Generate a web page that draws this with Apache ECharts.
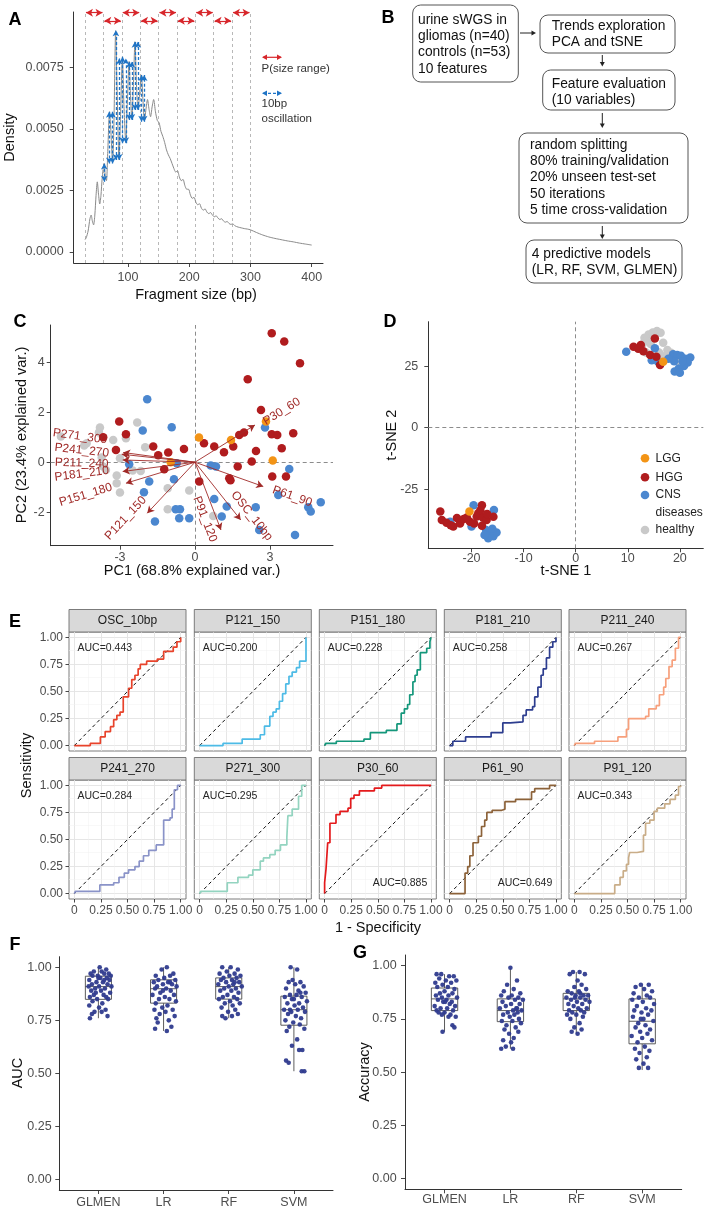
<!DOCTYPE html>
<html><head><meta charset="utf-8">
<script src="https://cdn.jsdelivr.net/npm/echarts@6/dist/echarts.min.js"></script>
<style>html,body{margin:0;padding:0;background:#fff}#c{width:709px;height:1209px}</style>
</head><body><div id="c"></div>
<script>
// ================= DATA =================
// Panel A: fragment size density
const densityCurve = [[30,0.00050],[32,0.00058],[35,0.00085],[38,0.00135],[40,0.00150],[42,0.00125],[44,0.00110],[46,0.00150],[48,0.00230],[50,0.00285],[52,0.00235],[54,0.00195],[56,0.00230],[58,0.00300],[61,0.00360],[63,0.00310],[65,0.00290],[67,0.00400],[70,0.00570],[72,0.00500],[75,0.00365],[77,0.00500],[80,0.00900],[82,0.00700],[85.5,0.00375],[88,0.00560],[91,0.00790],[93.5,0.00600],[96.5,0.00445],[99,0.00600],[102,0.00775],[104,0.00650],[106.5,0.00540],[109,0.00680],[111.5,0.00855],[114,0.00680],[116.5,0.00580],[119,0.00640],[122,0.00720],[124.5,0.00620],[127,0.00535],[129.5,0.00580],[132,0.00620],[134.5,0.00580],[137,0.00550],[139.5,0.00590],[142,0.00620],[145,0.00570],[148,0.00535],[151,0.00525],[154,0.00490],[157,0.00470],[160,0.00445],[163,0.00415],[166,0.00395],[169,0.00380],[172,0.00360],[175,0.00340],[178,0.00325],[181,0.00330],[184,0.00305],[187,0.00290],[190,0.00295],[193,0.00270],[196,0.00255],[199,0.00255],[202,0.00232],[205,0.00218],[208,0.00222],[211,0.00202],[214,0.00192],[217,0.00196],[220,0.00178],[223,0.00170],[226,0.00175],[229,0.00162],[232,0.00156],[235,0.00160],[238,0.00150],[241,0.00143],[244,0.00147],[247,0.00138],[250,0.00132],[253,0.00135],[256,0.00126],[259,0.00121],[262,0.00124],[265,0.00116],[268,0.00112],[271,0.00114],[275,0.00106],[280,0.00101],[285,0.00098],[290,0.00095],[295,0.00093],[300,0.00090],[310,0.00079],[320,0.00069],[330,0.00061],[340,0.00055],[350,0.00050],[360,0.00045],[370,0.00041],[380,0.00036],[390,0.00032],[400,0.00028]];
const sizeBreaks = [30,60,90,120,150,180,210,240,270,300];
const sizeRanges = [[30,60],[60,90],[90,120],[120,150],[150,180],[180,210],[210,240],[240,270],[270,300]];
const sizeRangeLevel = [0.00973,0.00940];
const oscArrows = [[61.4,0.00286,0.00360],[69.5,0.00360,0.00570],[75.0,0.00360,0.00570],[80.4,0.00374,0.00902],[85.8,0.00374,0.00787],[91.3,0.00442,0.00794],[96.7,0.00442,0.00787],[102.2,0.00537,0.00774],[106.5,0.00537,0.00774],[111.4,0.00577,0.00855],[116.3,0.00577,0.00855],[122.3,0.00530,0.00720],[126.6,0.00530,0.00720]];
const aTicksX = [100,200,300,400];
const aTicksY = [0,0.0025,0.005,0.0075];

// Panel B: flowchart text
const flowTexts = [
  ['urine sWGS in','gliomas (n=40)','controls (n=53)','10 features'],
  ['Trends exploration','PCA and tSNE'],
  ['Feature evaluation','(10 variables)'],
  ['random splitting','80% training/validation','20% unseen test-set','50 iterations','5 time cross-validation'],
  ['4 predictive models','(LR, RF, SVM, GLMEN)']
];

// Panel C: PCA biplot
const pcaHealthy = [[-3.8,1.39],[-3.84,1.19],[-5.36,1.03],[-4.43,0.67],[-4.33,0.76],[-3.27,0.89],[-2.76,0.96],[-2.31,1.59],[-1.99,0.6],[-3.73,0.19],[-3.67,-0.17],[-3.56,-0.31],[-3.0,0.16],[-2.49,-0.33],[-2.17,-0.35],[-3.13,-0.53],[-3.13,-0.84],[-3.0,-1.21],[-1.09,-1.04],[-1.09,-1.88],[-0.23,-1.13],[0.73,-2.15]];
const pcaCNS = [[-1.91,2.52],[-2.09,1.27],[-0.93,1.4],[-2.63,-0.08],[-1.83,-0.77],[-2.04,-1.2],[-1.6,-2.37],[-0.84,-0.68],[-0.73,-0.04],[-0.77,-1.88],[-0.6,-1.88],[-0.63,-2.24],[-0.23,-2.24],[0.63,-0.13],[0.84,-0.17],[0.77,-1.47],[1.27,-1.77],[1.07,-2.17],[2.43,-1.8],[2.57,-2.71],[2.8,1.39],[3.77,-0.27],[3.33,-1.31],[4.53,-1.8],[4.63,-1.97],[5.03,-1.6],[4.0,-2.91]];
const pcaHGG = [[3.07,5.16],[3.57,4.83],[4.2,3.96],[2.11,3.32],[2.64,2.09],[-3.03,1.63],[-3.67,1.0],[-2.76,1.12],[-3.16,0.49],[-1.67,0.63],[-1.47,0.28],[-1.07,0.39],[-0.44,0.53],[-1.23,-0.28],[0.17,-0.77],[0.36,0.76],[0.77,0.63],[1.16,0.4],[1.53,0.63],[1.77,1.09],[1.96,1.19],[2.44,0.45],[2.27,0.03],[1.71,-0.17],[1.37,-0.64],[3.07,1.12],[3.29,1.09],[3.93,1.16],[3.47,0.56],[3.09,-0.57],[3.64,-0.57],[1.42,-0.72]];
const pcaLGG = [[0.16,0.99],[1.44,0.89],[2.84,1.63],[3.11,0.07],[-0.97,0.0]];
const loadingNames = ['P30_60','P61_90','OSC_10bp','P91_120','P121_150','P151_180','P181_210','P211_240','P241_270','P271_300'];
const loadingEnds = [[2.4,1.49],[2.73,-0.97],[1.83,-2.31],[1.04,-2.71],[-1.91,-2.04],[-2.76,-0.84],[-2.89,-0.37],[-2.89,0.09],[-2.93,0.32],[-2.87,0.39]];
const loadingLabelAt = [[3.47,2.03],[3.89,-1.37],[2.27,-2.15],[0.4,-2.28],[-2.77,-2.24],[-4.37,-1.31],[-4.53,-0.47],[-4.53,-0.04],[-4.53,0.47],[-4.6,1.03]];
const cTicksX = [-3,0,3];
const cTicksY = [-2,0,2,4];

// Panel D: t-SNE
const tsneHealthy = [[13.2,36.5],[14.0,37.8],[14.8,38.6],[15.6,39.2],[16.3,38.5],[15.0,36.8],[13.6,35.2],[14.4,34.0],[16.8,34.5],[12.8,33.8],[17.6,31.5],[18.3,30.4],[17.0,29.0],[19.5,27.0],[20.5,25.4],[16.0,30.5],[13.5,30.5]];
const tsneCNS = [[9.7,30.8],[15.2,32.2],[14.6,27.4],[15.8,26.8],[18.7,29.8],[19.5,29.5],[20.2,29.2],[21.0,28.0],[22.0,28.5],[21.5,26.5],[20.8,25.0],[19.8,24.0],[19.0,22.8],[20.0,22.3],[18.9,27.0],[17.8,28.0],[20.5,27.0],[-24.1,-38.1],[-19.6,-31.4],[-20.0,-40.1],[-15.7,-33.4],[-17.2,-41.5],[-16.5,-42.8],[-15.8,-44.0],[-16.8,-44.8],[-17.5,-43.5],[-15.2,-42.5],[-16.0,-41.0]];
const tsneHGG = [[11.1,32.8],[12.5,33.5],[12.0,32.0],[15.2,36.2],[14.3,29.5],[15.5,28.8],[16.2,25.4],[13.0,31.0],[-26.0,-34.0],[-25.7,-37.4],[-24.8,-38.5],[-23.5,-40.1],[-22.2,-38.8],[-21.5,-37.0],[-20.3,-38.1],[-19.0,-36.0],[-18.7,-34.7],[-18.0,-31.4],[-18.3,-33.5],[-17.8,-36.5],[-17.1,-37.4],[-15.8,-36.1],[-19.5,-38.8],[-18.0,-39.8],[-22.8,-36.6],[-24.0,-39.6],[-20.9,-36.4],[-17.0,-35.0]];
const tsneLGG = [[16.8,26.8],[-20.4,-34.0]];
const dTicksX = [-20,-10,0,10,20];
const dTicksY = [-25,0,25];
const groupNames = ['LGG','HGG','CNS\ndiseases','healthy'];

// Panel E: ROC curves
const rocNames = ['OSC_10bp','P121_150','P151_180','P181_210','P211_240','P241_270','P271_300','P30_60','P61_90','P91_120'];
const rocAUC = ['0.443','0.200','0.228','0.258','0.267','0.284','0.295','0.885','0.649','0.343'];
const roc_OSC_10bp = [[0,0],[0.15,0.02],[0.245,0.08],[0.29,0.13],[0.34,0.175],[0.37,0.24],[0.40,0.28],[0.43,0.31],[0.46,0.45],[0.51,0.53],[0.54,0.61],[0.57,0.65],[0.60,0.71],[0.62,0.75],[0.68,0.78],[0.78,0.80],[0.84,0.87],[0.93,0.91],[0.965,0.96],[1,1]];
const roc_P121_150 = [[0,0],[0.22,0.02],[0.40,0.06],[0.57,0.10],[0.61,0.18],[0.66,0.27],[0.69,0.31],[0.72,0.34],[0.75,0.41],[0.78,0.48],[0.81,0.57],[0.84,0.64],[0.87,0.68],[0.91,0.72],[0.94,0.78],[1,1]];
const roc_P151_180 = [[0,0],[0.01,0.02],[0.11,0.04],[0.37,0.06],[0.43,0.12],[0.58,0.14],[0.68,0.20],[0.72,0.30],[0.75,0.34],[0.78,0.38],[0.80,0.47],[0.83,0.59],[0.85,0.65],[0.87,0.70],[0.90,0.86],[0.96,0.90],[0.99,0.96],[1,1]];
const roc_P181_210 = [[0,0],[0.03,0.04],[0.15,0.08],[0.39,0.12],[0.50,0.21],[0.57,0.22],[0.69,0.28],[0.72,0.33],[0.78,0.36],[0.80,0.45],[0.83,0.54],[0.86,0.65],[0.88,0.71],[0.91,0.81],[0.94,0.91],[0.97,0.96],[1,1]];
const roc_P211_240 = [[0,0],[0.01,0.02],[0.19,0.04],[0.41,0.08],[0.49,0.15],[0.51,0.25],[0.67,0.27],[0.70,0.34],[0.77,0.37],[0.80,0.47],[0.84,0.54],[0.86,0.62],[0.89,0.73],[0.92,0.79],[0.95,0.90],[0.98,1.0],[1,1]];
const roc_P241_270 = [[0,0],[0.01,0.02],[0.24,0.08],[0.37,0.10],[0.42,0.15],[0.47,0.19],[0.51,0.22],[0.57,0.25],[0.61,0.30],[0.65,0.35],[0.70,0.40],[0.77,0.45],[0.84,0.68],[0.90,0.70],[0.92,0.78],[0.94,0.96],[0.97,1.0],[1,1]];
const roc_P271_300 = [[0,0],[0.01,0.02],[0.26,0.10],[0.36,0.15],[0.46,0.17],[0.50,0.22],[0.57,0.30],[0.60,0.33],[0.66,0.36],[0.71,0.40],[0.76,0.45],[0.82,0.52],[0.83,0.72],[0.87,0.78],[0.93,0.90],[0.96,1.0],[1,1]];
const roc_P30_60 = [[0,0],[0,0.10],[0.013,0.225],[0.029,0.47],[0.05,0.65],[0.107,0.73],[0.145,0.76],[0.22,0.79],[0.245,0.88],[0.276,0.91],[0.327,0.95],[0.468,0.975],[0.537,1.0],[1,1]];
const roc_P61_90 = [[0,0],[0.145,0.19],[0.17,0.25],[0.19,0.35],[0.22,0.47],[0.27,0.53],[0.30,0.62],[0.33,0.68],[0.35,0.75],[0.40,0.77],[0.49,0.78],[0.52,0.85],[0.62,0.87],[0.77,0.94],[0.80,0.97],[0.94,1.0],[1,1]];
const roc_P91_120 = [[0,0],[0.38,0.08],[0.43,0.15],[0.46,0.21],[0.49,0.27],[0.51,0.33],[0.52,0.38],[0.59,0.39],[0.65,0.54],[0.67,0.65],[0.71,0.68],[0.75,0.76],[0.78,0.79],[0.85,0.83],[0.90,0.87],[0.95,0.91],[0.98,0.99],[1,1]];
const eTicks = [0,0.25,0.5,0.75,1];

// Panels F & G: model performance
const models = ['GLMEN','LR','RF','SVM'];
const aucBox = [[0.76,0.849,0.909,0.958,1.0],[0.70,0.831,0.899,0.941,1.0],[0.76,0.85,0.909,0.95,1.0],[0.51,0.727,0.80,0.864,1.0]];
const accBox = [[0.69,0.789,0.844,0.895,0.96],[0.61,0.737,0.789,0.844,0.99],[0.68,0.789,0.844,0.870,0.97],[0.51,0.633,0.739,0.844,0.91]];
const aucGLMEN = [[1.02,1.00],[1.12,0.99],[0.93,0.98],[1.05,0.98],[1.16,0.97],[0.88,0.97],[1.09,0.97],[0.99,0.96],[1.19,0.96],[0.91,0.96],[1.13,0.95],[1.03,0.95],[0.86,0.94],[1.17,0.94],[0.97,0.93],[1.07,0.93],[0.90,0.92],[1.14,0.92],[1.01,0.91],[0.85,0.91],[1.20,0.91],[0.95,0.90],[1.10,0.90],[0.89,0.89],[1.04,0.89],[1.18,0.88],[0.93,0.87],[1.08,0.87],[0.87,0.86],[1.12,0.86],[0.98,0.85],[1.15,0.85],[0.91,0.84],[1.06,0.83],[0.86,0.82],[1.01,0.81],[1.11,0.80],[0.94,0.79],[1.05,0.79],[0.90,0.78],[1.14,0.77],[0.87,0.76],[1.00,0.95],[1.09,0.94],[0.96,0.88]];
const aucLR = [[2.05,1.00],[1.97,0.99],[2.15,0.97],[1.88,0.96],[2.10,0.96],[2.01,0.95],[2.18,0.94],[1.92,0.94],[2.07,0.93],[1.85,0.93],[2.13,0.92],[1.99,0.92],[2.20,0.91],[1.90,0.91],[2.04,0.90],[1.87,0.90],[2.11,0.89],[1.95,0.88],[2.16,0.87],[1.83,0.87],[2.02,0.86],[2.09,0.85],[1.93,0.85],[2.19,0.84],[1.88,0.83],[2.06,0.82],[1.98,0.81],[2.14,0.80],[1.86,0.80],[2.03,0.79],[1.94,0.78],[2.17,0.77],[1.89,0.76],[2.08,0.75],[1.91,0.74],[2.12,0.72],[1.87,0.71],[2.05,0.70],[1.99,0.89],[2.10,0.93]];
const aucRF = [[2.90,1.00],[3.03,1.00],[3.14,0.99],[2.97,0.98],[3.09,0.97],[2.86,0.97],[3.18,0.96],[3.01,0.96],[2.92,0.95],[3.12,0.95],[3.05,0.94],[2.88,0.94],[3.16,0.93],[2.96,0.93],[3.07,0.92],[2.84,0.92],[3.20,0.91],[3.00,0.91],[2.93,0.90],[3.11,0.90],[3.04,0.89],[2.87,0.89],[3.15,0.88],[2.98,0.87],[3.08,0.86],[2.91,0.86],[3.13,0.85],[2.85,0.85],[3.02,0.84],[3.17,0.83],[2.94,0.83],[3.06,0.82],[2.89,0.81],[3.10,0.80],[2.99,0.79],[3.14,0.78],[2.90,0.77],[3.05,0.77],[2.95,0.76],[3.09,0.93]];
const aucSVM = [[3.95,1.00],[4.05,0.99],[3.98,0.94],[4.10,0.93],[3.92,0.93],[4.02,0.92],[4.15,0.91],[3.88,0.90],[4.07,0.89],[4.18,0.88],[3.94,0.87],[4.04,0.87],[3.86,0.86],[4.12,0.86],[3.97,0.85],[4.20,0.84],[4.08,0.83],[3.90,0.83],[4.01,0.82],[4.14,0.81],[3.85,0.80],[4.06,0.80],[3.96,0.79],[4.17,0.79],[3.91,0.78],[4.03,0.77],[4.11,0.76],[3.87,0.75],[3.99,0.74],[4.09,0.73],[3.93,0.72],[4.16,0.71],[3.89,0.70],[4.05,0.66],[3.97,0.63],[4.13,0.61],[4.08,0.61],[3.88,0.56],[3.92,0.55],[4.12,0.51],[4.16,0.51],[4.00,0.85],[3.94,0.80],[4.10,0.88]];
const accGLMEN = [[0.88,0.96],[0.95,0.96],[1.07,0.95],[1.14,0.95],[0.92,0.94],[1.02,0.93],[1.18,0.93],[0.86,0.92],[1.10,0.92],[0.97,0.91],[1.05,0.90],[0.89,0.90],[1.15,0.89],[1.00,0.88],[0.93,0.87],[1.12,0.87],[0.87,0.86],[1.06,0.86],[1.19,0.85],[0.96,0.85],[1.03,0.84],[0.90,0.84],[1.11,0.83],[0.98,0.83],[1.08,0.82],[0.85,0.81],[1.16,0.81],[0.94,0.80],[1.04,0.80],[0.88,0.79],[1.13,0.79],[1.00,0.78],[0.91,0.78],[1.09,0.77],[0.96,0.77],[1.17,0.76],[1.06,0.76],[1.12,0.72],[1.15,0.71],[0.97,0.69],[1.01,0.83]];
const accLR = [[2.00,0.99],[2.10,0.93],[1.95,0.91],[2.05,0.89],[1.90,0.88],[2.15,0.87],[2.02,0.86],[1.86,0.86],[2.12,0.85],[1.97,0.85],[2.19,0.84],[2.07,0.84],[1.88,0.83],[2.01,0.82],[2.14,0.82],[1.93,0.81],[2.09,0.80],[1.84,0.80],[2.04,0.79],[2.17,0.79],[1.96,0.78],[2.11,0.78],[1.89,0.77],[2.06,0.77],[1.99,0.76],[2.13,0.75],[1.87,0.74],[2.03,0.74],[2.16,0.73],[1.94,0.72],[2.08,0.71],[1.91,0.70],[2.12,0.69],[1.98,0.68],[2.05,0.66],[1.89,0.65],[2.01,0.64],[1.93,0.62],[2.04,0.61],[1.86,0.61],[2.10,0.80]];
const accRF = [[2.95,0.97],[3.05,0.97],[3.13,0.96],[2.90,0.96],[3.02,0.93],[3.08,0.91],[2.97,0.90],[3.15,0.89],[2.87,0.88],[3.04,0.88],[2.93,0.87],[3.11,0.86],[3.18,0.86],[2.99,0.86],[2.85,0.85],[3.06,0.85],[3.14,0.84],[2.92,0.84],[3.01,0.83],[3.20,0.83],[2.88,0.82],[3.09,0.82],[2.96,0.81],[3.03,0.80],[3.16,0.80],[2.89,0.79],[3.07,0.79],[2.94,0.78],[3.12,0.78],[2.86,0.77],[3.00,0.77],[3.10,0.76],[2.91,0.75],[3.05,0.73],[2.97,0.71],[3.08,0.70],[2.93,0.69],[3.02,0.68],[3.06,0.87],[2.98,0.85]];
const accSVM = [[3.98,0.91],[4.10,0.91],[3.90,0.90],[4.03,0.89],[4.15,0.88],[3.87,0.87],[4.07,0.86],[3.95,0.85],[4.12,0.85],[3.85,0.84],[4.01,0.83],[4.18,0.82],[3.92,0.81],[4.06,0.80],[3.88,0.79],[4.14,0.79],[3.99,0.78],[4.09,0.77],[3.86,0.76],[4.02,0.75],[4.17,0.74],[3.94,0.73],[4.05,0.72],[3.90,0.71],[4.12,0.70],[3.97,0.69],[4.08,0.68],[3.84,0.67],[4.00,0.66],[4.15,0.65],[3.93,0.64],[4.04,0.62],[3.89,0.61],[4.11,0.60],[3.96,0.59],[4.07,0.57],[3.91,0.56],[4.02,0.54],[3.95,0.52],[4.09,0.52],[3.98,0.75]];
const fgTicksY = [0,0.25,0.5,0.75,1];
const fgTicksX = [1,2,3,4];

// ================= STYLE / LAYOUT =================
const FONT = '"Liberation Sans", Arial, Helvetica, sans-serif';
const AXC = '#333333', TLC = '#4d4d4d';
const COL = {LGG:'#f39416', HGG:'#b01c1e', CNS:'#4b87cf', healthy:'#c9c9c9'};
const LOADC = '#a02a28';
const rocColors = ['#e8432b','#4dbbe6','#14977b','#2d3d8f','#f7a07c','#8a93c8','#93d4c0','#e41a1c','#8c6239','#c9ad88'];
const aucPos = ['tl','tl','tl','tl','tl','tl','tl','br','br','tl'];
const facetLeft = [69,194.3,319.3,444.3,569], facetTop = [632,780], facetW = 117, facetH = 119;

function vAxis(gi, min, max, ticks, fmt, o) {
  o = o || {};
  return {
    type:'value', gridIndex:gi, min:min, max:max,
    axisLine:{show:o.line!==false, onZero:false, lineStyle:{color:AXC, width:1}},
    axisTick:{show:o.ticks!==false, length:o.tickLen||4, lineStyle:{color:AXC, width:0.9}, customValues:ticks},
    axisLabel:{show:o.labels!==false, customValues:ticks, formatter:fmt, color:TLC, fontSize:o.fs||12.5, fontFamily:FONT, margin:o.margin||6},
    splitLine:{show:false}
  };
}

const grids = [], xAxes = [], yAxes = [], series = [], graphics = [];

// ---------- Panel A ----------
grids.push({left:73.7, top:12, width:249.3, height:251});
xAxes.push(vAxis(0, 11.5, 418.5, aTicksX, v => String(v), {margin:8}));
yAxes.push(vAxis(0, -0.00045, 0.00976, aTicksY, v => v.toFixed(4), {margin:10}));
series.push({type:'line', xAxisIndex:0, yAxisIndex:0, data:densityCurve, smooth:0.25, showSymbol:false, symbol:'none',
  lineStyle:{color:'#8a8a8a', width:1}, z:2,
  markLine:{silent:true, z:1, symbol:['none','none'], label:{show:false},
    lineStyle:{color:'#a6a6a6', type:[3,3], width:0.8},
    data: sizeBreaks.map(v => ({xAxis:v}))}});
series.push({type:'line', xAxisIndex:0, yAxisIndex:0, data:[], clip:false,
  markLine:{silent:true, z:5, symbol:['arrow','arrow'], symbolSize:[6,7], label:{show:false},
    lineStyle:{color:'#d7262b', type:'solid', width:1.2},
    data: sizeRanges.map((r,i) => [{coord:[r[0]+1.5, sizeRangeLevel[i%2]]},{coord:[r[1]-1.5, sizeRangeLevel[i%2]]}])}});
series.push({type:'line', xAxisIndex:0, yAxisIndex:0, data:[], clip:false,
  markLine:{silent:true, z:5, symbol:['arrow','arrow'], symbolSize:[5,6], label:{show:false},
    lineStyle:{color:'#1f74c6', type:[3,2], width:1.3},
    data: oscArrows.map(a => [{coord:[a[0], a[1]]},{coord:[a[0], a[2]]}])}});

// ---------- Panel C ----------
grids.push({left:50.7, top:325, width:282.3, height:220.7});
xAxes.push(vAxis(1, -5.77, 5.52, cTicksX, v => String(v), {margin:5}));
yAxes.push(vAxis(1, -3.34, 5.49, cTicksY, v => String(v), {margin:6}));
const scatterStyle = (gi, data, col, size) => ({type:'scatter', xAxisIndex:gi, yAxisIndex:gi, data:data, symbolSize:size,
  itemStyle:{color:col, opacity:1}, silent:true, z:3});
series.push({type:'line', xAxisIndex:1, yAxisIndex:1, data:[],
  markLine:{silent:true, z:1, symbol:['none','none'], label:{show:false},
    lineStyle:{color:'#8c8c8c', type:[4,3], width:1}, data:[{xAxis:0},{yAxis:0}]}});
series.push(scatterStyle(1, pcaHealthy, COL.healthy, 8.5));
series.push(scatterStyle(1, pcaCNS, COL.CNS, 8.5));
series.push(scatterStyle(1, pcaHGG, COL.HGG, 8.5));
series.push(scatterStyle(1, pcaLGG, COL.LGG, 8.5));
series.push({type:'scatter', xAxisIndex:1, yAxisIndex:1, symbolSize:0, silent:true, z:6,
  itemStyle:{opacity:1},
  data: loadingLabelAt.map((p,i) => {
    let ang = Math.atan2(loadingEnds[i][1], loadingEnds[i][0]) * 180 / Math.PI;
    if (ang > 90) ang -= 180; if (ang < -90) ang += 180;
    return {value:p, label:{show:true, formatter:loadingNames[i], rotate:ang, position:'inside',
      color:LOADC, fontSize:12, fontFamily:FONT, opacity:1}};
  }),
  markLine:{silent:true, z:5, symbol:['none','arrow'], symbolSize:[6,7], label:{show:false},
    lineStyle:{color:LOADC, type:'solid', width:0.9, opacity:1},
    data: loadingEnds.map(e => [{coord:[0,0]},{coord:e}])}});

// ---------- Panel D ----------
grids.push({left:428.3, top:321.7, width:275, height:226.6});
xAxes.push(vAxis(2, -28.3, 24.5, dTicksX, v => String(v), {margin:4}));
yAxes.push(vAxis(2, -48.9, 43.0, dTicksY, v => String(v), {margin:10}));
series.push({type:'line', xAxisIndex:2, yAxisIndex:2, data:[],
  markLine:{silent:true, z:1, symbol:['none','none'], label:{show:false},
    lineStyle:{color:'#8c8c8c', type:[4,3], width:1}, data:[{xAxis:0},{yAxis:0}]}});
series.push(scatterStyle(2, tsneHealthy, COL.healthy, 8.5));
series.push(scatterStyle(2, tsneCNS, COL.CNS, 8.5));
series.push(scatterStyle(2, tsneHGG, COL.HGG, 8.5));
series.push(scatterStyle(2, tsneLGG, COL.LGG, 8.5));

// ---------- Panel E ----------
const rocData = [roc_OSC_10bp, roc_P121_150, roc_P151_180, roc_P181_210, roc_P211_240, roc_P241_270, roc_P271_300, roc_P30_60, roc_P61_90, roc_P91_120];
const majorG = [0,0.25,0.5,0.75,1], minorG = [0.125,0.375,0.625,0.875];
for (let i = 0; i < 10; i++) {
  const r = Math.floor(i/5), c = i % 5, gi = 3 + i;
  grids.push({left:facetLeft[c], top:facetTop[r], width:facetW, height:facetH, show:true, borderColor:'#6e6e6e', borderWidth:0.9, backgroundColor:'#ffffff'});
  xAxes.push(vAxis(gi, -0.05, 1.05, eTicks, v => v === 0 ? '0' : v.toFixed(2), {line:false, ticks:r===1, labels:r===1, fs:12, margin:6, tickLen:3.5}));
  yAxes.push(vAxis(gi, -0.05, 1.05, eTicks, v => v.toFixed(2), {line:false, ticks:c===0, labels:c===0, fs:12, margin:6, tickLen:3.5}));
  const gl = [];
  majorG.forEach(v => { gl.push({xAxis:v, lineStyle:{color:'#e3e3e3', width:0.9, type:'solid'}}); gl.push({yAxis:v, lineStyle:{color:'#e3e3e3', width:0.9, type:'solid'}}); });
  minorG.forEach(v => { gl.push({xAxis:v, lineStyle:{color:'#f0f0f0', width:0.5, type:'solid'}}); gl.push({yAxis:v, lineStyle:{color:'#f0f0f0', width:0.5, type:'solid'}}); });
  series.push({type:'line', xAxisIndex:gi, yAxisIndex:gi, data:[], z:1,
    markLine:{silent:true, z:1, symbol:['none','none'], label:{show:false}, data:gl}});
  series.push({type:'line', xAxisIndex:gi, yAxisIndex:gi, data:[[0,0],[1,1]], showSymbol:false, symbol:'none', z:2,
    lineStyle:{color:'#111', width:1, type:[3.5,3]}, silent:true});
  series.push({type:'line', xAxisIndex:gi, yAxisIndex:gi, data:rocData[i], step:'end', showSymbol:false, symbol:'none', z:3,
    lineStyle:{color:rocColors[i], width:1.7}, silent:true});
  const tl = aucPos[i] === 'tl';
  series.push({type:'scatter', xAxisIndex:gi, yAxisIndex:gi, symbolSize:0, silent:true, z:4,
    itemStyle:{opacity:1},
    data:[tl ? [0.03,0.9] : [0.965,0.1]],
    label:{show:true, formatter:'AUC=' + rocAUC[i], position: tl ? 'right' : 'left', distance:0,
      color:'#262626', fontSize:10.5, fontFamily:FONT}});
  graphics.push({type:'rect', shape:{x:facetLeft[c], y:facetTop[r]-22.5, width:facetW, height:22.5},
    style:{fill:'#d9d9d9', stroke:'#6e6e6e', lineWidth:0.9}});
  graphics.push({type:'text', x:facetLeft[c]+facetW/2, y:facetTop[r]-11.2,
    style:{text:rocNames[i], fill:'#1a1a1a', fontSize:12, fontFamily:FONT, textAlign:'center', align:'center', textVerticalAlign:'middle', verticalAlign:'middle'}});
}

// ---------- Panels F, G ----------
function boxRender(params, api) {
  const x = api.value(0), lo = api.value(1), q1 = api.value(2), md = api.value(3), q3 = api.value(4), hi = api.value(5);
  const hw = 0.2;
  const a = api.coord([x, lo]), b = api.coord([x, q1]), c = api.coord([x, q3]), d = api.coord([x, hi]);
  const l = api.coord([x-hw, q3]), rr = api.coord([x+hw, q1]);
  const ml = api.coord([x-hw, md]), mr = api.coord([x+hw, md]);
  const st = {stroke:'#4a4a4a', lineWidth:0.9, fill:'#ffffff'};
  return {type:'group', children:[
    {type:'line', shape:{x1:a[0], y1:a[1], x2:b[0], y2:b[1]}, style:st},
    {type:'line', shape:{x1:c[0], y1:c[1], x2:d[0], y2:d[1]}, style:st},
    {type:'rect', shape:{x:l[0], y:l[1], width:rr[0]-l[0], height:rr[1]-l[1]}, style:st},
    {type:'line', shape:{x1:ml[0], y1:ml[1], x2:mr[0], y2:mr[1]}, style:st}
  ]};
}
[[13, {left:59.3, top:956.7, width:273.7, height:233.3}, aucBox, [aucGLMEN, aucLR, aucRF, aucSVM], 7.6, 5.7],
 [14, {left:405, top:955, width:276.7, height:234.3}, accBox, [accGLMEN, accLR, accRF, accSVM], 8.3, 3.5]].forEach(p => {
  const gi = p[0];
  grids.push(p[1]);
  xAxes.push(vAxis(gi, 0.4, 4.6, fgTicksX, v => models[v-1], {margin:p[5]}));
  yAxes.push(vAxis(gi, -0.05, 1.05, fgTicksY, v => v.toFixed(2), {margin:p[4]}));
  series.push({type:'custom', xAxisIndex:gi, yAxisIndex:gi, renderItem:boxRender, silent:true, z:2,
    encode:{x:0, y:[1,2,3,4,5]},
    data: p[2].map((b,k) => [k+1].concat(b))});
  p[3].forEach(pts => series.push({type:'scatter', xAxisIndex:gi, yAxisIndex:gi, data:pts, symbolSize:4.6,
    itemStyle:{color:'#2f3b8e', opacity:0.95}, silent:true, z:3}));
});

// ---------- graphic texts ----------
function txt(x, y, s, o) {
  o = o || {};
  const g = {type:'text', x:x, y:y, style:{text:s, fill:o.fill||'#111', fontSize:o.fs||14.5, fontFamily:FONT, fontWeight:o.fw||'normal',
    textAlign:o.align||'center', align:o.align||'center', textVerticalAlign:o.va||'middle', verticalAlign:o.va||'middle', lineHeight:o.lh}};
  if (o.rot) g.rotation = o.rot;
  return g;
}
const R90 = Math.PI/2;
// panel letters
[['A',15,20],['B',388,18],['C',20,322],['D',390,322],['E',15,622],['F',15,945],['G',360,953]].forEach(p =>
  graphics.push(txt(p[1], p[2], p[0], {fs:18, fw:'bold', fill:'#000'})));
// axis titles
graphics.push(txt(9.5, 137.5, 'Density', {rot:R90}));
graphics.push(txt(196, 295, 'Fragment size (bp)'));
graphics.push(txt(21.5, 435, 'PC2 (23.4% explained var.)', {rot:R90}));
graphics.push(txt(192, 571, 'PC1 (68.8% explained var.)'));
graphics.push(txt(391.5, 435, 't-SNE 2', {rot:R90}));
graphics.push(txt(566, 571, 't-SNE 1'));
graphics.push(txt(27, 765.5, 'Sensitivity', {rot:R90}));
graphics.push(txt(378, 928, '1 - Specificity'));
graphics.push(txt(18, 1073, 'AUC', {rot:R90}));
graphics.push(txt(365, 1072, 'Accuracy', {rot:R90}));

// panel A legend
function arrowHead(x, y, dir, col, s) {
  s = s || 5;
  const pts = dir === 'r' ? [[x,y],[x-s,y-s*0.55],[x-s,y+s*0.55]] :
              dir === 'l' ? [[x,y],[x+s,y-s*0.55],[x+s,y+s*0.55]] :
              dir === 'd' ? [[x,y],[x-s*0.55,y-s],[x+s*0.55,y-s]] : [[x,y],[x-s*0.55,y+s],[x+s*0.55,y+s]];
  return {type:'polygon', shape:{points:pts}, style:{fill:col}};
}
graphics.push({type:'line', shape:{x1:263, y1:57.3, x2:281, y2:57.3}, style:{stroke:'#d7262b', lineWidth:1.2}});
graphics.push(arrowHead(262, 57.3, 'l', '#d7262b'), arrowHead(282, 57.3, 'r', '#d7262b'));
graphics.push(txt(261.5, 68.5, 'P(size range)', {fs:11.5, align:'left', fill:'#333'}));
graphics.push({type:'line', shape:{x1:263, y1:93.3, x2:281, y2:93.3}, style:{stroke:'#1f74c6', lineWidth:1.3, lineDash:[3,2]}});
graphics.push(arrowHead(262, 93.3, 'l', '#1f74c6'), arrowHead(282, 93.3, 'r', '#1f74c6'));
graphics.push(txt(261.5, 103.5, '10bp', {fs:11.5, align:'left', fill:'#333'}));
graphics.push(txt(261.5, 119, 'oscillation', {fs:11.5, align:'left', fill:'#333'}));

// panel D legend
const legCols = [COL.LGG, COL.HGG, COL.CNS, COL.healthy];
const legY = [458.3, 477.3, 495, 530];
groupNames.forEach((n,k) => {
  graphics.push({type:'circle', shape:{cx:645, cy:legY[k], r:4.3}, style:{fill:legCols[k]}});
  graphics.push(txt(655.5, legY[k] - 8.6, n, {fs:12, align:'left', va:'top', fill:'#222', lh:17.3}));
});

// panel B flowchart
const boxGeom = [[412.7,5,105.6,77,418,11.9],[540,15,135,38,551.7,17.9],[542.7,70,132.3,40,551.7,75.9],[519,133,169,90,530,136.9],[526,240,156,43,531.7,245.9]];
boxGeom.forEach((b,k) => {
  graphics.push({type:'rect', shape:{x:b[0], y:b[1], width:b[2], height:b[3], r:8}, style:{fill:'#fff', stroke:'#555', lineWidth:1}});
  graphics.push(txt(b[4], b[5], flowTexts[k].join('\n'), {fs:13.8, align:'left', va:'top', lh:16.3, fill:'#111'}));
});
graphics.push({type:'line', shape:{x1:520, y1:33, x2:532, y2:33}, style:{stroke:'#222', lineWidth:1}});
graphics.push(arrowHead(536, 33, 'r', '#222', 4.5));
[[55,66.5],[113,128],[226,239]].forEach(s => {
  graphics.push({type:'line', shape:{x1:602.3, y1:s[0], x2:602.3, y2:s[1]-3}, style:{stroke:'#222', lineWidth:1}});
  graphics.push(arrowHead(602.3, s[1], 'd', '#222', 4.5));
});

const chart = echarts.init(document.getElementById('c'), null, {renderer:'canvas'});
chart.setOption({
  animation:false, backgroundColor:'#ffffff',
  textStyle:{fontFamily:FONT},
  grid:grids, xAxis:xAxes, yAxis:yAxes, series:series, graphic:{elements:graphics}
});
</script></body></html>
